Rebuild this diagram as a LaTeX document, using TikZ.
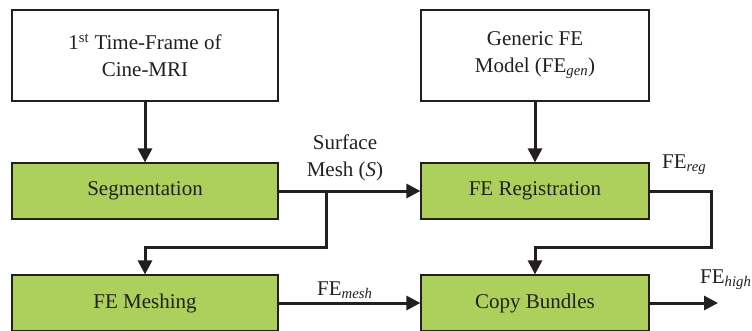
\documentclass[tikz,border=0pt]{standalone}
\usepackage{fontspec}
\setmainfont{Liberation Serif}
\usetikzlibrary{arrows.meta}
\definecolor{boxgreen}{RGB}{173,208,92}
\definecolor{ink}{RGB}{35,31,32}
\begin{document}
\begin{tikzpicture}[x=1pt,y=-1pt,
  every node/.style={font=\fontsize{21}{27}\selectfont, text=ink},
  whitebox/.style={draw=ink, line width=1.2pt, fill=white, align=center, inner sep=0pt},
  greenbox/.style={draw=ink, line width=1.2pt, fill=boxgreen, align=center, inner sep=0pt, minimum height=56pt},
  conn/.style={draw=ink, line width=3pt},
  arr/.style={conn, -{Triangle[length=14pt,width=14pt]}},
  lbl/.style={inner sep=0pt, align=center}
]
\useasboundingbox (0,0) rectangle (752,330);
\node[whitebox, minimum width=266pt, minimum height=91pt] (b1) at (145,55.5) {1\textsuperscript{st} Time-Frame of\\Cine-MRI};
\node[whitebox, minimum width=228pt, minimum height=91pt] (b2) at (535,55.5) {Generic FE\\Model (FE\textsubscript{\textit{gen}})};
\node[greenbox, minimum width=266pt] (seg) at (145,191) {Segmentation};
\node[greenbox, minimum width=228pt] (reg) at (535,191) {FE Registration};
\node[greenbox, minimum width=266pt] (mesh) at (145,303) {FE Meshing};
\node[greenbox, minimum width=228pt] (copy) at (535,303) {Copy Bundles};

\coordinate (j1) at (326,191);
\coordinate (k1) at (326,247);
\coordinate (r1) at (711,247);
\coordinate (out) at (718,303);

\draw[arr] (b1) -- (seg);
\draw[arr] (b2) -- (reg);
\draw[arr] (seg.east) -- (reg.west);
\draw[arr] (j1) -- (k1) -| (mesh.north);
\draw[arr] (reg.east) -| (r1) -| (copy.north);
\draw[arr] (mesh.east) -- (copy.west);
\draw[arr] (copy.east) -- (out);

\node[lbl] (lsurf) at (345,158) {Surface\\Mesh (\textit{S})};
\node[lbl, anchor=west] (lreg) at (662,165) {FE\textsubscript{\textit{reg}}};
\node[lbl, anchor=west] (lmesh) at (317,290) {FE\textsubscript{\textit{mesh}}};
\node[lbl, anchor=west] (lhigh) at (700,280) {FE\textsubscript{\textit{high}}};
\end{tikzpicture}
\end{document}
